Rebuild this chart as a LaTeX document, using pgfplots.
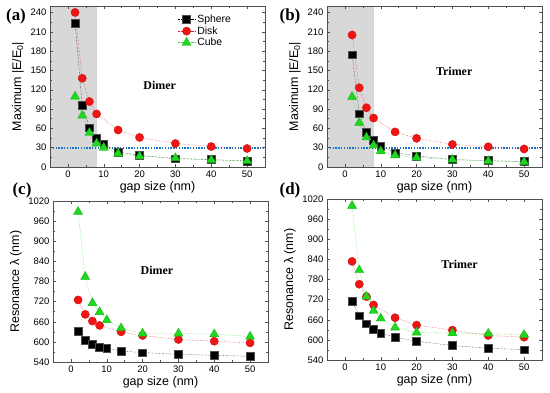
\documentclass[border=0pt]{standalone}
\usepackage{pgfplots}
\pgfplotsset{compat=1.18}
\usepackage{fontspec}
\setmainfont{Liberation Sans}
\newfontfamily\serifb{Liberation Serif}
\definecolor{myred}{RGB}{240,20,20}
\definecolor{mygreen}{RGB}{30,215,30}
\definecolor{myblue}{RGB}{25,115,195}
\definecolor{shade}{RGB}{216,216,216}
\definecolor{frame}{RGB}{80,80,80}
\pgfplotsset{
  base/.style={
    scale only axis, width=215bp, height=161bp, anchor=south west,
    xmin=-5, xmax=55, xtick={0,10,20,30,40,50}, minor x tick num=1,
    tick align=inside, major tick length=3bp, minor tick length=1.8bp,
    axis line style={frame}, every tick/.style={frame},
    /pgf/number format/assume math mode=true,
    /pgf/number format/set thousands separator={},
    tick label style={font=\fontsize{9.5}{11}\selectfont},
    label style={font=\fontsize{12.5}{14}\selectfont},
    xlabel={gap size (nm)},
    xlabel style={yshift=3bp},
    axis on top,
  },
  sph/.style={black, densely dotted, thin, mark=square*, mark size=3.9bp, mark options={solid, fill=black, draw=black!70}},
  dsk/.style={myred, densely dotted, thin, mark=*, mark size=4.1bp, mark options={solid, fill=myred, draw=myred!85!black}},
  cub/.style={mygreen, densely dotted, thin, mark=triangle*, mark size=5.2bp, mark options={solid, fill=mygreen, draw=mygreen!85!black}},
  hline/.style={draw=myblue, color=myblue, line width=2bp, dash pattern=on 1.4bp off 1.4bp, forget plot, mark=none},
  field/.style={base, ymin=0, ymax=250, ytick={0,30,...,240}, minor y tick num=1, ylabel={Maximum |E/E\textsubscript{0}|}},
  reso/.style={base, ymin=540, ymax=1020, ytick={540,600,...,1020}, minor y tick num=1, ylabel={Resonance λ (nm)}},
}
\begin{document}
\begin{tikzpicture}
\useasboundingbox (0,0) rectangle (550bp,393bp);
% (a)
\begin{axis}[field, at={(50bp,226bp)},
  legend style={draw=none, fill=none, at={(0.58,0.97)}, anchor=north west, font=\fontsize{10.5}{12}\selectfont, row sep=-1.5bp},
  legend cell align=left]
\addplot[fill=shade, draw=none, forget plot] coordinates {(-5,250) (8,250)} \closedcycle;
\addplot[hline] coordinates {(-5,30) (55,30)};
\addplot[sph] coordinates {(2,222.7)(4,96.5)(6,61)(8,45)(10,35.5)(14,23.5)(20,18)(30,13)(40,11.5)(50,9.4)};
\addlegendentry{Sphere}
\addplot[dsk] coordinates {(2,240)(4,137.7)(6,101.7)(8,82.4)(14,57.4)(20,45.9)(30,36.5)(40,31.8)(50,28.7)};
\addlegendentry{Disk}
\addplot[cub] coordinates {(2,109.5)(4,79.8)(6,53)(8,36.5)(10,30)(14,21)(20,16.7)(30,14)(40,11)(50,9.4)};
\addlegendentry{Cube}
\node[font=\serifb\bfseries\fontsize{12}{14}\selectfont] at (axis cs:25.6,126) {Dimer};
\end{axis}
% (b)
\begin{axis}[field, at={(327bp,226bp)}]
\addplot[fill=shade, draw=none, forget plot] coordinates {(-5,250) (8,250)} \closedcycle;
\addplot[hline] coordinates {(-5,30) (55,30)};
\addplot[sph] coordinates {(2,174.5)(4,82.8)(6,54)(8,41)(10,32.5)(14,22)(20,17.3)(30,11.5)(40,10)(50,8.4)};
\addplot[dsk] coordinates {(2,205)(4,123)(6,92)(8,76)(14,54.5)(20,44.5)(30,35)(40,31.4)(50,28)};
\addplot[cub] coordinates {(2,109)(4,68.7)(6,46)(8,33.5)(10,24.6)(14,18.3)(20,14.7)(30,11.5)(40,9.4)(50,7.9)};
\node[font=\serifb\bfseries\fontsize{12}{14}\selectfont] at (axis cs:30.5,148) {Trimer};
\end{axis}
% (c)
\begin{axis}[reso, at={(53bp,31bp)}]
\addplot[sph] coordinates {(2,633)(4,605)(6,593)(8,584)(10,580)(14,573)(20,568)(30,563)(40,560)(50,557)};
\addplot[dsk] coordinates {(2,725)(4,682)(6,662)(8,649)(14,630)(20,619)(30,607)(40,602)(50,597)};
\addplot[cub] coordinates {(2,988)(4,794)(6,716)(8,689)(10,665)(14,641)(20,625)(30,625)(40,623)(50,616)};
\node[font=\serifb\bfseries\fontsize{12}{14}\selectfont] at (axis cs:24,812) {Dimer};
\end{axis}
% (d)
\begin{axis}[reso, at={(327bp,33bp)}]
\addplot[sph] coordinates {(2,715)(4,672)(6,648)(8,633)(10,620)(14,608)(20,596)(30,583)(40,575)(50,571)};
\addplot[dsk] coordinates {(2,834)(4,766)(6,729)(8,704)(14,666)(20,644)(30,629)(40,613)(50,608)};
\addplot[cub] coordinates {(2,1000)(4,808)(6,729)(8,687)(10,664)(14,637)(20,622)(30,620)(40,619)(50,615)};
\node[font=\serifb\bfseries\fontsize{12}{14}\selectfont] at (axis cs:32,824) {Trimer};
\end{axis}
% panel labels
\node[font=\serifb\bfseries\fontsize{17}{19}\selectfont, anchor=center] at (16bp,377bp) {(a)};
\node[font=\serifb\bfseries\fontsize{17}{19}\selectfont, anchor=center] at (290bp,377bp) {(b)};
\node[font=\serifb\bfseries\fontsize{17}{19}\selectfont, anchor=center] at (22bp,203bp) {(c)};
\node[font=\serifb\bfseries\fontsize{17}{19}\selectfont, anchor=center] at (290bp,203bp) {(d)};
\end{tikzpicture}
\end{document}
